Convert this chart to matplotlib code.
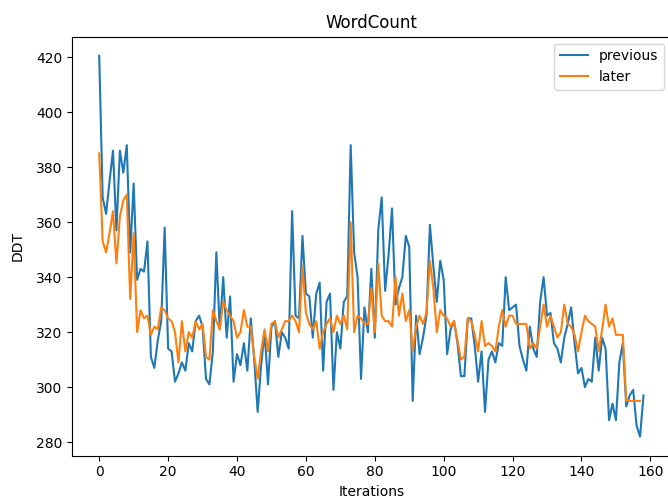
import matplotlib
matplotlib.use('Agg')
import matplotlib.pyplot as plt

# DDT per iteration, two runs
previous = [420.5, 369, 363, 375, 386, 357, 386, 378, 388, 349,
            374, 339, 343, 342, 353, 311, 307, 317, 324, 358,
            314, 313, 302, 305, 309, 306, 316, 313, 324, 326,
            322, 303, 301, 313, 349, 321, 340, 318, 333, 302,
            312, 308, 316, 306, 325, 310, 291, 308, 320, 301,
            322, 324, 311, 320, 318, 314, 364, 326, 325, 355,
            334, 333, 318, 334, 338, 306, 331, 334, 299, 320,
            314, 331, 333, 388, 349, 340, 303, 329, 320, 343,
            318, 357, 369, 335, 348, 365, 330, 336, 340, 355,
            351, 295, 326, 312, 318, 326, 359, 344, 331, 346,
            339, 312, 321, 324, 316, 304, 304, 325, 325, 315,
            302, 313, 291, 310, 313, 309, 316, 315, 340, 328,
            329, 330, 315, 310, 306, 322, 314, 311, 331, 340,
            326, 327, 316, 314, 309, 318, 323, 329, 316, 305,
            307, 300, 303, 302, 318, 306, 318, 314, 288, 294,
            288, 309, 316, 293, 297, 299, 286, 282, 297]

later = [385, 353, 349, 356, 364, 345, 362, 368, 370, 332,
         356, 320, 328, 325, 326, 319, 322, 321, 329, 328,
         325, 324, 320, 309, 324, 313, 320, 318, 324, 321,
         323, 311, 310, 328, 324, 321, 331, 328, 326, 324,
         318, 320, 328, 322, 322, 311, 303, 313, 321, 313,
         323, 324, 318, 321, 324, 324, 326, 324, 320, 344,
         327, 323, 321, 324, 314, 320, 323, 325, 320, 326,
         323, 326, 321, 360, 320, 326, 325, 323, 323, 336,
         320, 345, 326, 324, 324, 322, 340, 326, 334, 324,
         328, 313, 322, 326, 323, 327, 346, 336, 320, 328,
         326, 325, 322, 324, 317, 310, 311, 325, 324, 319,
         313, 324, 315, 316, 315, 313, 322, 328, 322, 326,
         326, 323, 323, 323, 323, 314, 316, 314, 322, 330,
         322, 326, 322, 318, 320, 330, 323, 322, 319, 313,
         320, 326, 324, 323, 322, 313, 321, 330, 322, 325,
         319, 319, 319, 295, 295, 295, 295, 295]

fig = plt.figure(figsize=(6.68, 5), dpi=100)
ax = fig.add_axes([72 / 668, 44.3 / 500, 598.7 / 668, 419 / 500])
ax.plot(range(len(previous)), previous, label='previous')
ax.plot(range(len(later)), later, label='later')
ax.set_xlabel('Iterations')
ax.set_ylabel('DDT', labelpad=8)
ax.set_title('WordCount')
ax.legend(loc='upper right')
fig.savefig('out.png', dpi=100)
